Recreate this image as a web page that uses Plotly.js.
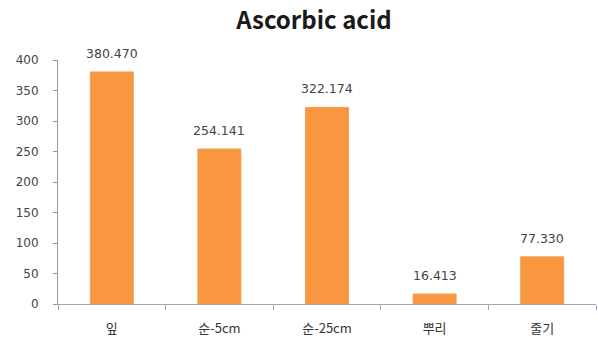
<!DOCTYPE html>
<html>
<head>
<meta charset="utf-8">
<script src="https://cdn.plot.ly/plotly-3.0.1.min.js"></script>
<style>
  html, body { margin: 0; padding: 0; background: #ffffff; }
  #chart { width: 598px; height: 346px; }
</style>
</head>
<body>
<div id="chart"></div>
<script>
// Ascorbic acid content by plant part
const categories = ['잎', '순-5cm', '순-25cm', '뿌리', '줄기'];
const values = [380.470, 254.141, 322.174, 16.413, 77.330];
const valueLabels = ['380.470', '254.141', '322.174', '16.413', '77.330'];
const yTicks = [0, 50, 100, 150, 200, 250, 300, 350, 400];

const labelFont = { family: '"DejaVu Sans", "Noto Sans", sans-serif', size: 12, color: '#444444' };

const trace = {
  type: 'bar',
  x: categories,
  y: values,
  marker: { color: '#f99640', line: { color: '#f5a25a', width: 1 } },
  hoverinfo: 'x+y'
};

// value labels sit a little above each bar top
const valueAnnotations = categories.map((c, i) => ({
  x: c,
  y: values[i],
  xref: 'x',
  yref: 'y',
  text: valueLabels[i],
  showarrow: false,
  yanchor: 'bottom',
  yshift: 9,
  font: { family: '"DejaVu Sans", "Noto Sans", sans-serif', size: 12.5, color: '#444444' }
}));

const layout = {
  width: 598,
  height: 346,
  margin: { l: 58, r: 2, t: 60, b: 42 },
  paper_bgcolor: '#ffffff',
  plot_bgcolor: '#ffffff',
  title: {
    text: '<b>Ascorbic acid</b>',
    x: 0.525,
    xanchor: 'center',
    y: 0.94,
    yanchor: 'middle',
    font: { family: '"Noto Sans CJK KR", "Noto Sans", sans-serif', size: 24, color: '#1a1a1a' }
  },
  bargap: 0.6,
  showlegend: false,
  annotations: valueAnnotations,
  xaxis: {
    type: 'category',
    showline: true,
    linecolor: '#9aa8b8',
    linewidth: 1,
    ticks: 'outside',
    tickson: 'boundaries',
    ticklen: 5,
    tickcolor: '#9aa8b8',
    showgrid: false,
    tickfont: { family: '"Noto Sans CJK KR", "Noto Sans", sans-serif', size: 13, color: '#333333' },
    ticklabelstandoff: 12
  },
  yaxis: {
    range: [0, 400],
    tickvals: yTicks,
    ticktext: yTicks.map(String),
    showline: true,
    linecolor: '#999999',
    linewidth: 1,
    ticks: 'outside',
    ticklen: 4,
    tickcolor: '#999999',
    showgrid: false,
    zeroline: false,
    tickfont: labelFont,
    ticklabelstandoff: 12
  }
};

Plotly.newPlot('chart', [trace], layout, { staticPlot: true, displayModeBar: false });
</script>
</body>
</html>
